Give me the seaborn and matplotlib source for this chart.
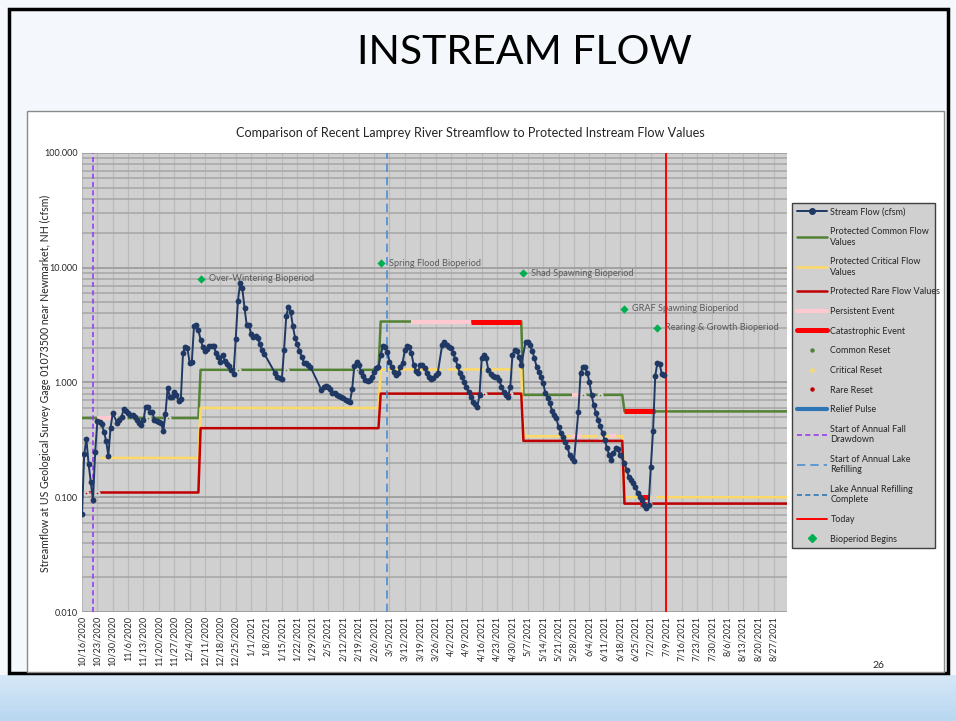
import matplotlib
matplotlib.use("Agg")
import matplotlib.pyplot as plt
import matplotlib.ticker as mticker
from matplotlib.lines import Line2D
from matplotlib.patches import Rectangle
import numpy as np
import pandas as pd
import seaborn as sns

sns.set_theme(style="whitegrid")
plt.rcParams["font.family"] = ["Lato", "DejaVu Sans"]

# --------------------------------------------------------------------------- #
# daily stream flow (cfsm), runs of consecutive days; gaps = missing days
FLOW_RUNS = [
    ("10/16/2020", [0.071, 0.238, 0.32, 0.195, 0.135, 0.094, 0.248, 0.46, 0.45, 0.432,
                    0.372, 0.309, 0.230, 0.403, 0.539]),
    ("11/1/2020", [0.446, 0.471, 0.503, 0.584, 0.561, 0.539, 0.524, 0.524, 0.503, 0.471,
                   0.440, 0.426, 0.471, 0.615, 0.608, 0.556, 0.553, 0.471, 0.459, 0.455,
                   0.446, 0.375, 0.531, 0.901, 0.751, 0.743, 0.831, 0.778, 0.694, 0.713]),
    ("12/1/2020", [1.82, 2.05, 1.99, 1.49, 1.51, 3.11, 3.16, 2.87, 2.35, 2.05, 1.89, 1.95,
                   2.08, 2.08, 2.08, 1.80, 1.66, 1.52, 1.74, 1.55, 1.44, 1.39, 1.29, 1.19,
                   2.40, 5.17, 7.34, 6.64, 4.44, 3.18, 3.18]),
    ("1/1/2021", [2.63, 2.51, 2.55, 2.43, 2.17, 1.92, 1.78]),
    ("1/12/2021", [1.20, 1.12, 1.09, 1.07, 1.92, 3.80, 4.59, 4.15, 3.11, 2.46, 2.17, 1.89,
                   1.68, 1.49, 1.47, 1.42, 1.37]),
    ("2/2/2021", [0.860, 0.919, 0.938, 0.908, 0.872, 0.815, 0.805, 0.783, 0.763, 0.752,
                  0.728, 0.703, 0.694, 0.680, 0.872, 1.39, 1.52, 1.42, 1.24, 1.14, 1.05,
                  1.04, 1.05, 1.12, 1.24, 1.35, 1.37]),
    ("3/1/2021", [1.74, 2.08, 2.03, 1.86, 1.52, 1.37, 1.24, 1.16, 1.20, 1.37, 1.49, 1.92,
                  2.08, 2.03, 1.80, 1.42, 1.27, 1.22, 1.42, 1.42, 1.33, 1.20, 1.12, 1.07,
                  1.09, 1.16, 1.22]),
    ("3/29/2021", [2.12, 2.27, 2.12]),
    ("4/1/2021", [2.05, 1.99, 1.80, 1.59, 1.39, 1.22, 1.11, 1.02, 0.92, 0.83, 0.75, 0.68,
                  0.649, 0.615, 0.778, 1.63, 1.74, 1.63, 1.29, 1.19, 1.14, 1.11, 1.12,
                  1.05, 0.919, 0.831, 0.778, 0.743, 0.919, 1.74]),
    ("5/1/2021", [1.92, 1.90, 1.66, 1.42]),
    ("5/6/2021", [2.27, 2.27, 2.12, 1.90, 1.63, 1.37, 1.24, 1.12, 0.984, 0.805, 0.728,
                  0.667, 0.567, 0.520, 0.487, 0.407, 0.365, 0.336, 0.304, 0.275, 0.233,
                  0.221, 0.208]),
    ("5/30/2021", [0.556, 1.20]),
    ("6/1/2021", [1.36, 1.36, 1.22, 1.02, 0.778, 0.636, 0.545, 0.471, 0.417, 0.361, 0.315,
                  0.27, 0.233, 0.211, 0.241, 0.267, 0.261, 0.233]),
    ("6/20/2021", [0.200, 0.172, 0.151, 0.141, 0.132, 0.123, 0.108, 0.101, 0.0943, 0.0853,
                   0.0814]),
    ("7/1/2021", [0.0853, 0.184, 0.377, 1.14, 1.49, 1.45, 1.19, 1.16]),
]

# protected flow values (cfsm) per bioperiod
PERIOD_STARTS = ["10/16/2020", "12/9/2020", "3/1/2021", "5/5/2021", "6/20/2021"]
AXIS_START, AXIS_END = "10/16/2020", "9/2/2021"
COMMON = [0.49, 1.29, 3.4, 0.78, 0.56]
CRITICAL = [0.22, 0.60, 1.30, 0.34, 0.10]
RARE = [0.11, 0.40, 0.80, 0.31, 0.088]

PERSISTENT = [("10/16/2020", "10/17/2020", "rare"), ("10/23/2020", "10/30/2020", "common"),
              ("3/15/2021", "4/11/2021", "common"), ("5/27/2021", "5/31/2021", "common"),
              ("5/27/2021", "5/31/2021", "critical"), ("6/13/2021", "6/16/2021", "critical")]
CATASTROPHIC = [("4/11/2021", "5/4/2021", "common"), ("6/20/2021", "7/4/2021", "common"),
                ("6/28/2021", "7/1/2021", "critical"), ("6/27/2021", "6/30/2021", "rare")]
COMMON_RESETS = ["10/31/2020", "11/4/2020", "11/9/2020", "11/15/2020", "11/24/2020",
                 "12/26/2020", "1/17/2021", "2/18/2021", "6/1/2021", "6/9/2021"]
CRITICAL_RESETS = ["10/17/2020", "10/20/2020", "10/23/2020", "3/30/2021", "4/6/2021",
                   "4/18/2021", "5/1/2021", "6/9/2021", "7/3/2021"]
RARE_RESETS = ["10/18/2020", "10/21/2020", "10/23/2020", "4/17/2021", "4/29/2021", "7/1/2021"]

BIOPERIOD_DATES = ["12/9/2020", "3/1/2021", "5/5/2021", "6/20/2021", "7/5/2021"]
BIOPERIOD_Y = [8.0, 10.9, 9.0, 4.4, 3.0]
BIOPERIOD_NAMES = ["Over-Wintering Bioperiod", "Spring Flood Bioperiod",
                   "Shad Spawning Bioperiod", "GRAF Spawning Bioperiod",
                   "Rearing & Growth Bioperiod"]

FALL_DRAWDOWN = "10/21/2020"
LAKE_REFILL = "3/4/2021"
TODAY = "7/9/2021"

BG = "#d0d0d0"
NAVY = "#1f3864"
GREEN = "#548235"
YELLOW = "#ffd966"
DARKRED = "#c00000"
PINK = "#ffc9cf"
RED = "#ff0000"
PURPLE = "#9b3cf0"
BLUE = "#4a8fd4"
BLUE2 = "#2e75b6"
BIO_GREEN = "#00b050"

W, H = 956, 721


def d(s):
    return pd.to_datetime(s, format="%m/%d/%Y")


starts = [d(s) for s in PERIOD_STARTS]
LEVELS = {"common": COMMON, "critical": CRITICAL, "rare": RARE}


def level_at(which, date):
    idx = np.searchsorted(np.array(starts, dtype="datetime64[ns]"),
                          np.datetime64(d(date)), side="right") - 1
    return LEVELS[which][idx]


def step_frame(levels):
    xs, ys = [], []
    for i, v in enumerate(levels):
        end = starts[i + 1] - pd.Timedelta(days=1) if i + 1 < len(starts) else d(AXIS_END)
        xs += [starts[i], end]
        ys += [v, v]
    return pd.DataFrame({"date": xs, "cfsm": ys})


flow = pd.concat([pd.DataFrame({"date": pd.date_range(d(s), periods=len(v), freq="D"),
                                "cfsm": v}) for s, v in FLOW_RUNS], ignore_index=True)

fig = plt.figure(figsize=(W / 100, H / 100), dpi=100)

# slide background -----------------------------------------------------------
bg = fig.add_axes([0, 0, 1, 1], zorder=-5)
bg.set_xlim(0, W); bg.set_ylim(H, 0); bg.axis("off")
bg.add_patch(Rectangle((0, 0), W, H, color="#f4f8fc", zorder=0))
grad = np.linspace(0, 1, 50).reshape(-1, 1)
bg.imshow(grad, extent=[0, W, H, 675], cmap=matplotlib.colors.LinearSegmentedColormap
          .from_list("band", ["#d6e8f7", "#b9d7f1"]), aspect="auto", zorder=1)
bg.add_patch(Rectangle((9, 9), 939, 664, fill=False, ec="black", lw=2.5, zorder=2))
bg.add_patch(Rectangle((27, 111), 917, 561, fc="white", ec="#8a8a8a", lw=1, zorder=2))
bg.set_xlim(0, W); bg.set_ylim(H, 0)

fig.text(524 / W, 1 - 52 / H, "INSTREAM FLOW", ha="center", va="center",
         fontsize=29.5, color="black")
fig.text(470 / W, 1 - 133 / H,
         "Comparison of Recent Lamprey River Streamflow to Protected Instream Flow Values",
         ha="center", va="center", fontsize=9.1, color="#262626")
fig.text(45 / W, 1 - 383 / H,
         "Streamflow at US Geological Survey Gage 01073500 near Newmarket, NH (cfsm)",
         ha="center", va="center", rotation=90, fontsize=7.6, color="#262626")
fig.text(878 / W, 1 - 665 / H, "26", ha="center", va="center", fontsize=7.5)

# main plot ---------------------------------------------------------------
ax = fig.add_axes([82 / W, 1 - 612 / H, 705 / W, 459 / H], zorder=1)
ax.set_facecolor(BG)
ax.set_yscale("log")

for levels, c in [(COMMON, GREEN), (CRITICAL, YELLOW), (RARE, DARKRED)]:
    sf = step_frame(levels)
    ax.plot(sf["date"], sf["cfsm"], color=c, lw=1.8, zorder=2)

for lst, c, lw in [(PERSISTENT, PINK, 3.0), (CATASTROPHIC, RED, 3.6)]:
    for s, e, which in lst:
        v = level_at(which, s)
        ax.plot([d(s), d(e)], [v, v], color=c, lw=lw, solid_capstyle="butt", zorder=3)

for lst, which, c in [(COMMON_RESETS, "common", GREEN), (CRITICAL_RESETS, "critical", YELLOW),
                      (RARE_RESETS, "rare", DARKRED)]:
    ax.scatter([d(s) for s in lst], [level_at(which, s) for s in lst], s=8, color=c,
               edgecolor=BG, linewidth=1.6, zorder=4)

sns.lineplot(data=flow, x="date", y="cfsm", ax=ax, color=NAVY, lw=1.4, marker="o",
             markersize=4.2, markeredgewidth=0, sort=False, estimator=None, zorder=6)

ax.axvline(d(FALL_DRAWDOWN), color=PURPLE, lw=1.2, dashes=(3, 2), zorder=5)
ax.axvline(d(LAKE_REFILL), color=BLUE, lw=1.2, dashes=(5, 3), zorder=5)
ax.axvline(d(TODAY), color=RED, lw=1.4, zorder=5)

bio_dates = [d(s) for s in BIOPERIOD_DATES]
ax.scatter(bio_dates, BIOPERIOD_Y, marker="D", s=18, color=BIO_GREEN, zorder=7, lw=0)
for x, y, name in zip(bio_dates, BIOPERIOD_Y, BIOPERIOD_NAMES):
    ax.annotate(name, (x, y), xytext=(8, 0), textcoords="offset pixels",
                va="center", ha="left", fontsize=6.6, color="#595959")

# axes formatting
ax.set_xlim(d(AXIS_START), d(AXIS_END))
ax.set_ylim(0.01, 100)
ticks = pd.date_range(d("10/16/2020"), d("8/27/2021"), freq="7D")
ax.set_xticks(ticks)
ax.set_xticklabels([f"{t.month}/{t.day}/{t.year}" for t in ticks], rotation=90,
                   fontsize=6.5, color="#262626")
ax.set_yticks([0.01, 0.1, 1, 10, 100])
ax.set_yticklabels([f"{v:.3f}" for v in [0.01, 0.1, 1, 10, 100]], fontsize=6.5,
                   color="#262626")
ax.yaxis.set_minor_locator(mticker.LogLocator(base=10, subs=np.arange(2, 10)))
ax.yaxis.set_minor_formatter(mticker.NullFormatter())
ax.tick_params(which="both", length=0, pad=3)
ax.grid(False)
ax.grid(which="major", axis="x", color="#bababa", lw=0.9)
ax.grid(which="major", axis="y", color="#9e9e9e", lw=1.3)
ax.grid(which="minor", axis="y", color="#a6a6a6", lw=1.1)
ax.set_axisbelow(True)
for sp in ax.spines.values():
    sp.set_visible(False)
ax.set_xlabel(""); ax.set_ylabel("")

# legend
handles = [
    Line2D([], [], color=NAVY, lw=1.4, marker="o", ms=4),
    Line2D([], [], color=GREEN, lw=1.8),
    Line2D([], [], color=YELLOW, lw=1.8),
    Line2D([], [], color=DARKRED, lw=1.8),
    Line2D([], [], color=PINK, lw=3.0),
    Line2D([], [], color=RED, lw=3.6),
    Line2D([], [], ls="", marker="o", ms=2.2, color=GREEN),
    Line2D([], [], ls="", marker="o", ms=2.2, color=YELLOW),
    Line2D([], [], ls="", marker="o", ms=2.2, color=DARKRED),
    Line2D([], [], color=BLUE2, lw=3.0),
    Line2D([], [], color=PURPLE, lw=1.2, dashes=(3, 2)),
    Line2D([], [], color=BLUE, lw=1.2, dashes=(5, 3)),
    Line2D([], [], color=BLUE2, lw=1.2, dashes=(3, 2)),
    Line2D([], [], color=RED, lw=1.4),
    Line2D([], [], ls="", marker="D", ms=4, color=BIO_GREEN),
]
labels = ["Stream Flow (cfsm)", "Protected Common Flow\nValues",
          "Protected Critical Flow\nValues", "Protected Rare Flow Values",
          "Persistent Event", "Catastrophic Event", "Common Reset", "Critical Reset",
          "Rare Reset", "Relief Pulse", "Start of Annual Fall\nDrawdown",
          "Start of Annual Lake\nRefilling", "Lake Annual Refilling\nComplete", "Today",
          "Bioperiod Begins"]
leg = fig.legend(handles, labels, loc="upper left", mode="expand",
                 bbox_to_anchor=(792 / W, 0, 143 / W, 1 - 203 / H), fontsize=6.5,
                 frameon=True, fancybox=False, facecolor=BG, edgecolor="#404040",
                 handlelength=3.4, handletextpad=0.35, labelspacing=1.18,
                 borderpad=0.5, borderaxespad=0)
leg.get_frame().set_linewidth(1.0)
leg.get_frame().set_alpha(1)

fig.savefig("out.png", dpi=100, facecolor="white")
